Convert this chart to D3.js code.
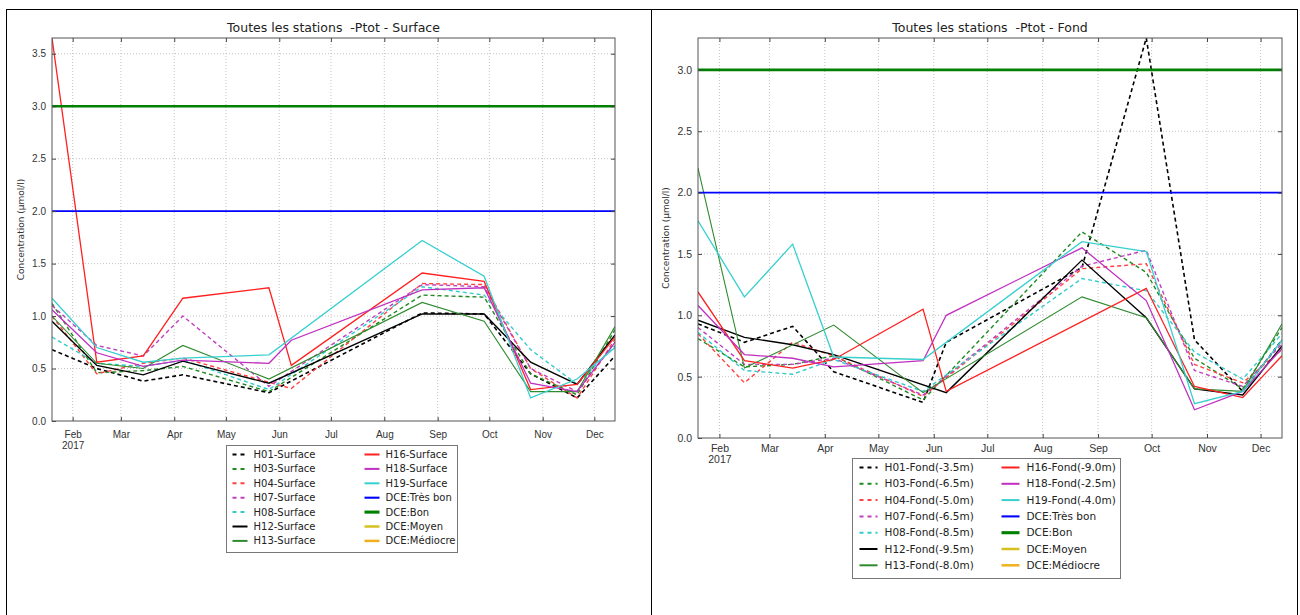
<!DOCTYPE html>
<html>
<head>
<meta charset="utf-8">
<script src="https://cdn.jsdelivr.net/npm/d3@7"></script>
<style>
  body { margin: 0; background: #fff; }
  svg { display: block; font-family: "DejaVu Sans", sans-serif; }
  .grid line { stroke: #c4c4c4; stroke-dasharray: 1,2; }
  .axis path, .axis line { stroke: #444; }
  .axis text { fill: #333; }
  .frame { fill: none; stroke: #555; }
  .panel { fill: none; stroke: #000; }
</style>
</head>
<body>
<svg id="chart" width="1300" height="615"></svg>
<script>
// sampling dates shared by both charts
const sampleDates = ['2017-01-20', '2017-02-15', '2017-03-14', '2017-04-06', '2017-05-26',
  '2017-06-08', '2017-08-23', '2017-09-28', '2017-10-25', '2017-11-21', '2017-12-13'];

const stations = ['H01', 'H03', 'H04', 'H07', 'H08', 'H12', 'H13', 'H16', 'H18', 'H19'];
const fondDepths = ['-3.5m', '-6.5m', '-5.0m', '-6.5m', '-8.5m', '-9.5m', '-8.0m', '-9.0m', '-2.5m', '-4.0m'];

// Ptot surface, one row per station (null = not sampled that day)
const surfaceValues = [
  [0.68, 0.50, 0.38, 0.44, 0.27, null, 1.03, 1.02, 0.45, 0.22, 0.62],
  [1.12, 0.46, 0.48, 0.52, 0.28, null, 1.20, 1.18, 0.45, 0.25, 0.87],
  [1.00, 0.45, 0.55, 0.60, null, 0.31, 1.31, 1.30, 0.50, 0.22, 0.78],
  [1.10, 0.72, 0.62, 1.00, 0.33, null, 1.30, 1.28, 0.50, 0.28, 0.75],
  [0.80, 0.55, 0.52, 0.58, 0.30, null, 1.28, 1.20, 0.68, 0.35, 0.72],
  [0.95, 0.53, 0.44, 0.57, 0.36, null, 1.02, 1.02, 0.56, 0.35, 0.82],
  [1.00, 0.55, 0.50, 0.72, 0.40, null, 1.13, 0.95, 0.28, 0.28, 0.90],
  [3.65, 0.56, 0.62, 1.17, 1.27, 0.53, 1.41, 1.33, 0.30, 0.35, 0.80],
  [1.06, 0.65, 0.52, 0.58, 0.55, 0.77, 1.25, 1.27, 0.36, 0.28, 0.75],
  [1.17, 0.70, 0.56, 0.60, 0.63, null, 1.72, 1.38, 0.22, 0.40, 0.70]
];

// Ptot bottom
const fondValues = [
  [0.93, 0.78, 0.91, 0.54, 0.29, 0.78, 1.39, 3.26, 0.80, 0.38, 0.80],
  [0.81, 0.58, 0.60, 0.67, 0.31, null, 1.68, 1.35, 0.65, 0.40, 0.90],
  [0.85, 0.45, 0.78, 0.67, 0.34, null, 1.38, 1.42, 0.60, 0.45, 0.72],
  [0.90, 0.60, 0.60, 0.65, 0.35, null, 1.40, 1.53, 0.55, 0.42, 0.77],
  [0.86, 0.55, 0.52, 0.64, 0.38, null, 1.30, 1.20, 0.70, 0.48, 0.85],
  [0.96, 0.82, 0.76, 0.68, null, 0.37, 1.45, 0.98, 0.40, 0.35, 0.75],
  [2.20, 0.57, null, 0.92, 0.37, null, 1.15, 0.98, 0.40, 0.38, 0.93],
  [1.19, 0.63, 0.57, 0.64, 1.05, 0.38, null, 1.22, 0.42, 0.33, 0.67],
  [1.08, 0.68, 0.65, 0.58, 0.63, 1.00, 1.55, 1.12, 0.23, 0.38, 0.73],
  [1.77, 1.15, 1.58, 0.66, 0.64, null, 1.60, 1.52, 0.28, 0.38, 0.80]
];

// DCE quality thresholds
const dceLabels = ['DCE:Très bon', 'DCE:Bon', 'DCE:Moyen', 'DCE:Médiocre'];
const dceValues = [2.0, 3.0, null, null];

const monthTicks = ['2017-02-01', '2017-03-01', '2017-04-01', '2017-05-01', '2017-06-01', '2017-07-01',
  '2017-08-01', '2017-09-01', '2017-10-01', '2017-11-01', '2017-12-01'];

// look of each station line
const stationStyles = [
  {color: '#000000', dash: '4,3', width: 1.6},
  {color: '#1f8a1f', dash: '4,3', width: 1.4},
  {color: '#ff4040', dash: '4,3', width: 1.4},
  {color: '#c040c0', dash: '4,3', width: 1.4},
  {color: '#33cccc', dash: '4,3', width: 1.4},
  {color: '#000000', dash: null, width: 1.4},
  {color: '#2e8b2e', dash: null, width: 1.1},
  {color: '#ff2020', dash: null, width: 1.3},
  {color: '#c030c0', dash: null, width: 1.3},
  {color: '#38cfcf', dash: null, width: 1.3}
];
const dceStyles = [
  {color: '#0000ff', width: 1.6},
  {color: '#008000', width: 2.6},
  {color: '#d4c020', width: 2},
  {color: '#f0b020', width: 2}
];

const parseDate = d3.timeParse('%Y-%m-%d');

class PtotChart {

  constructor(_config, _data) {
    this.config = _config;
    this.data = _data;
    this.initVis();
  }

  initVis() {
    let vis = this;
    const c = vis.config;
    vis.width = c.right - c.left;
    vis.height = c.bottom - c.top;

    vis.xScale = d3.scaleTime()
        .domain(d3.extent(sampleDates, parseDate))
        .range([0, vis.width]);

    const yMax = d3.max(vis.data.flat().filter(v => v != null));
    vis.yScale = d3.scaleLinear()
        .domain([0, yMax])
        .range([vis.height, 0]);

    vis.svg = d3.select(c.parentElement);

    vis.chart = vis.svg.append('g')
        .attr('transform', `translate(${c.left},${c.top})`);

    vis.chart.append('clipPath')
        .attr('id', c.id + '-clip')
      .append('rect')
        .attr('width', vis.width)
        .attr('height', vis.height);

    // gridlines
    vis.chart.append('g')
        .attr('class', 'grid')
        .selectAll('line.v')
        .data(monthTicks.map(parseDate))
      .join('line')
        .attr('x1', d => vis.xScale(d)).attr('x2', d => vis.xScale(d))
        .attr('y1', 0).attr('y2', vis.height);

    vis.yTicks = d3.range(0.5, yMax, 0.5);
    vis.chart.append('g')
        .attr('class', 'grid')
        .selectAll('line.h')
        .data(vis.yTicks)
      .join('line')
        .attr('x1', 0).attr('x2', vis.width)
        .attr('y1', d => vis.yScale(d)).attr('y2', d => vis.yScale(d));

    vis.lineGroup = vis.chart.append('g')
        .attr('clip-path', `url(#${c.id}-clip)`);

    // axes, ticks inward like matplotlib classic
    vis.xAxis = d3.axisBottom(vis.xScale)
        .tickValues(monthTicks.map(parseDate))
        .tickSize(-4)
        .tickPadding(c.xPad)
        .tickFormat(d3.timeFormat('%b'));

    vis.yAxis = d3.axisLeft(vis.yScale)
        .tickValues(d3.range(0, yMax + 0.001, 0.5))
        .tickSize(-4)
        .tickPadding(6)
        .tickFormat(d3.format('.1f'));

    vis.xAxisG = vis.chart.append('g')
        .attr('class', 'axis x-axis')
        .attr('transform', `translate(0,${vis.height})`);
    vis.yAxisG = vis.chart.append('g')
        .attr('class', 'axis y-axis');

    // mirrored ticks on top and right
    vis.chart.append('g').attr('class', 'axis')
        .call(d3.axisTop(vis.xScale).tickValues(monthTicks.map(parseDate)).tickSize(-4).tickFormat(''))
        .call(g => g.select('.domain').remove());
    vis.chart.append('g').attr('class', 'axis')
        .attr('transform', `translate(${vis.width},0)`)
        .call(d3.axisRight(vis.yScale).tickValues(vis.yTicks).tickSize(-4).tickFormat(''))
        .call(g => g.select('.domain').remove());

    vis.chart.append('rect')
        .attr('class', 'frame')
        .attr('width', vis.width)
        .attr('height', vis.height);

    // titles
    vis.svg.append('text')
        .attr('x', (c.left + c.right) / 2)
        .attr('y', c.top - 6)
        .attr('text-anchor', 'middle')
        .style('font-size', '12.5px')
        .style('white-space', 'pre')
        .attr('fill', '#222')
        .text(c.title);

    vis.svg.append('text')
        .attr('transform', `translate(${c.yLabelX},${(c.top + c.bottom) / 2}) rotate(-90)`)
        .attr('text-anchor', 'middle')
        .style('font-size', '9px')
        .attr('fill', '#333')
        .text('Concentration (µmol/l)');

    vis.updateVis();
  }

  updateVis() {
    let vis = this;
    const dates = sampleDates.map(parseDate);
    vis.series = vis.data.map((vals, i) => ({
      style: stationStyles[i],
      points: vals.map((v, j) => ({date: dates[j], value: v})).filter(p => p.value != null)
    }));
    vis.renderVis();
  }

  renderVis() {
    let vis = this;
    const c = vis.config;

    const line = d3.line()
        .x(d => vis.xScale(d.date))
        .y(d => vis.yScale(d.value));

    vis.lineGroup.selectAll('.station')
        .data(vis.series)
      .join('path')
        .attr('class', 'station')
        .attr('fill', 'none')
        .attr('stroke', d => d.style.color)
        .attr('stroke-width', d => d.style.width)
        .attr('stroke-dasharray', d => d.style.dash)
        .attr('d', d => line(d.points));

    vis.lineGroup.selectAll('.dce')
        .data(dceValues.map((v, i) => ({value: v, style: dceStyles[i]})).filter(d => d.value != null))
      .join('line')
        .attr('class', 'dce')
        .attr('x1', 0).attr('x2', vis.width)
        .attr('y1', d => vis.yScale(d.value)).attr('y2', d => vis.yScale(d.value))
        .attr('stroke', d => d.style.color)
        .attr('stroke-width', d => d.style.width);

    vis.xAxisG.call(vis.xAxis)
        .call(g => g.select('.domain').remove())
        .call(g => g.selectAll('text').style('font-size', c.tickFont));
    // year under the first month label
    vis.xAxisG.select('.tick text')
        .append('tspan').attr('x', 0).attr('dy', '1.05em').text('2017');

    vis.yAxisG.call(vis.yAxis)
        .call(g => g.select('.domain').remove())
        .call(g => g.selectAll('text').style('font-size', c.tickFont));

    // legend
    const lg = c.legend;
    const legend = vis.svg.append('g')
        .attr('transform', `translate(${lg.x},${lg.y})`);
    legend.append('rect')
        .attr('width', lg.w).attr('height', lg.h)
        .attr('fill', '#fff').attr('stroke', '#777');

    const items = stations.map((s, i) => ({label: c.labelFn(s, i), style: stationStyles[i]}))
        .concat(dceLabels.map((l, i) => ({label: l, style: dceStyles[i]})));

    const item = legend.selectAll('.item')
        .data(items)
      .join('g')
        .attr('class', 'item')
        .attr('transform', (d, i) => {
          const col = i < 7 ? 0 : 1;
          const row = i % 7;
          return `translate(${lg.colX[col]},${lg.firstRow + row * lg.rowH})`;
        });

    item.append('line')
        .attr('x1', 0).attr('x2', lg.sample)
        .attr('stroke', d => d.style.color)
        .attr('stroke-width', d => Math.max(d.style.width, 1.5) + 0.5)
        .attr('stroke-dasharray', d => d.style.dash ? '4,4' : null);

    item.append('text')
        .attr('x', lg.textDx)
        .attr('dy', '0.35em')
        .style('font-size', lg.font)
        .attr('fill', '#222')
        .text(d => d.label);
  }
}

const svg = d3.select('#chart');
svg.append('rect').attr('class', 'panel').attr('x', 6.5).attr('y', 9.5).attr('width', 645).attr('height', 620);
svg.append('rect').attr('class', 'panel').attr('x', 651.5).attr('y', 9.5).attr('width', 646).attr('height', 620);

new PtotChart({
  parentElement: '#chart', id: 'surf',
  left: 52, right: 615, top: 38, bottom: 421,
  title: 'Toutes les stations  -Ptot - Surface',
  yLabelX: 24, tickFont: '10px', xPad: 10,
  labelFn: s => `${s}-Surface`,
  legend: {x: 226.5, y: 445.5, w: 231, h: 107, firstRow: 9, rowH: 14.4,
           colX: [6, 138], sample: 15, textDx: 21, font: '10px'}
}, surfaceValues);

new PtotChart({
  parentElement: '#chart', id: 'fond',
  left: 698, right: 1282, top: 38, bottom: 438,
  title: 'Toutes les stations  -Ptot - Fond',
  yLabelX: 669, tickFont: '10.5px', xPad: 7,
  labelFn: (s, i) => `${s}-Fond(${fondDepths[i]})`,
  legend: {x: 852.5, y: 458.5, w: 268, h: 120, firstRow: 9, rowH: 16.3,
           colX: [7, 149], sample: 18, textDx: 25, font: '10.5px'}
}, fondValues);
</script>
</body>
</html>
